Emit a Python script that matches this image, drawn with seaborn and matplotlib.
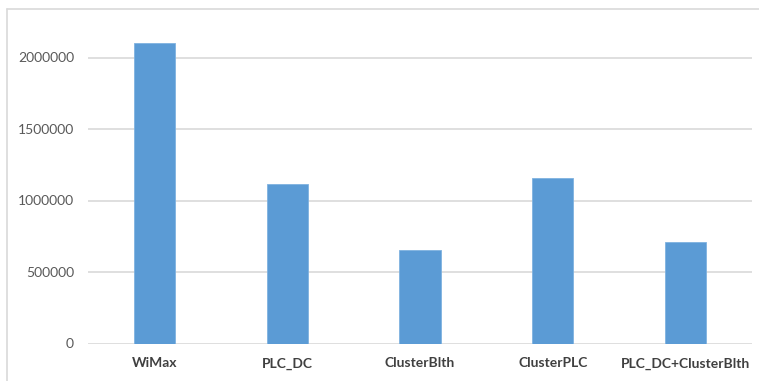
import matplotlib
matplotlib.use("Agg")
import matplotlib.pyplot as plt
from matplotlib.lines import Line2D
import seaborn as sns
import pandas as pd

categories = ["WiMax", "PLC_DC", "ClusterBlth", "ClusterPLC", "PLC_DC+ClusterBlth"]
values = [2100000, 1115000, 655000, 1155000, 713000]
yticks = [0, 500000, 1000000, 1500000, 2000000]

df = pd.DataFrame({"scheme": categories, "value": values})

sns.set_theme(style="white")
plt.rcParams["font.family"] = ["Lato", "DejaVu Sans"]

W, H = 759, 381
fig = plt.figure(figsize=(W / 100, H / 100), dpi=100)
left, right = 88 / W, 752 / W
bottom, top = 1 - 343.5 / H, 1 - 21.75 / H
ax = fig.add_axes([left, bottom, right - left, top - bottom])

sns.barplot(data=df, x="scheme", y="value", color="#5B9BD5", saturation=1,
            width=0.31, ax=ax, edgecolor="#7FB2E0", linewidth=0.6)

ax.set_ylim(0, 2250000)
ax.set_yticks(yticks)
ax.set_yticklabels([str(v) for v in yticks], fontsize=10, color="#595959")
ax.set_xticklabels(categories, fontsize=10, color="#404040", fontweight="bold")
ax.tick_params(axis="y", length=0, pad=10)
ax.tick_params(axis="x", length=0, pad=10)
ax.set_xlabel("")
ax.set_ylabel("")
ax.yaxis.grid(True, color="#D9D9D9", linewidth=1.2)
ax.set_axisbelow(True)
for s in ax.spines.values():
    s.set_visible(False)

# chart-area border (left and top edges)
fig.add_artist(Line2D([7 / W, 7 / W], [0, 1 - 9 / H], color="#D9D9D9", linewidth=1.2,
                      transform=fig.transFigure))
fig.add_artist(Line2D([7 / W, 1], [1 - 9 / H, 1 - 9 / H], color="#D9D9D9", linewidth=1.2,
                      transform=fig.transFigure))

fig.savefig("out.png", dpi=100)
